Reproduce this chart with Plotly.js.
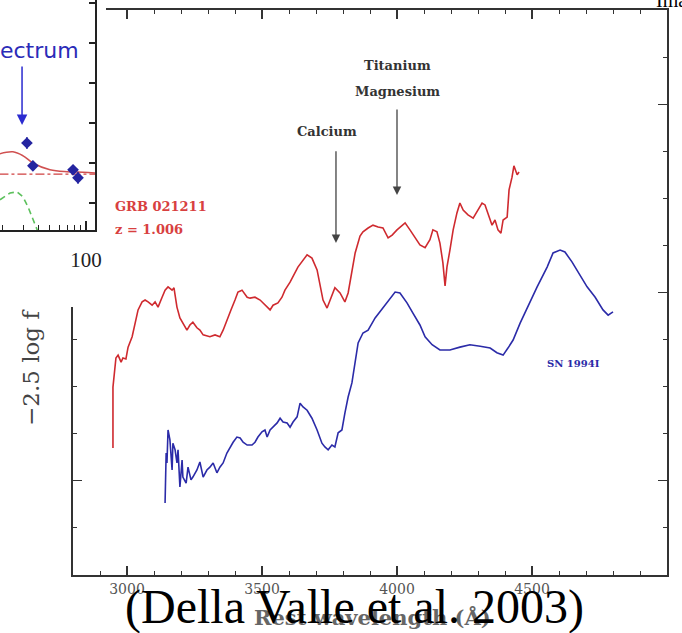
<!DOCTYPE html>
<html>
<head>
<meta charset="utf-8">
<script src="https://cdn.plot.ly/plotly-3.0.1.min.js"></script>
<style>
  html, body { margin: 0; padding: 0; background: #fff; }
  #chart { width: 682px; height: 633px; }
</style>
</head>
<body>
<div id="chart"></div>
<script>
// GRB 021211 afterglow spectrum, rest frame (z = 1.006), -2.5 log f in arbitrary units
const grbWave = [2948,2948,2959,2967,2978,2985,2996,3004,3019,3030,3041,3056,3067,3078,3093,3104,3115,3130,3141,3152,3167,3174,3185,3196,3207,3222,3233,3244,3259,3270,3282,3296,3307,3326,3344,3356,3370,3385,3400,3411,3426,3433,3445,3456,3474,3493,3504,3519,3530,3541,3559,3574,3585,3604,3622,3633,3667,3685,3704,3715,3726,3741,3752,3770,3789,3807,3819,3833,3845,3863,3874,3893,3911,3930,3948,3967,3982,4000,4019,4030,4048,4067,4085,4104,4122,4133,4148,4159,4170,4178,4185,4196,4208,4222,4233,4245,4263,4282,4300,4315,4326,4337,4352,4363,4374,4385,4393,4408,4415,4426,4433,4445,4452];
const grbMag = [2.70,3.99,4.61,4.67,4.52,4.61,4.59,4.84,5.06,5.35,5.63,5.80,5.84,5.80,5.73,5.80,5.69,5.90,6.05,6.12,6.05,6.10,5.69,5.46,5.35,5.20,5.31,5.37,5.25,5.20,5.10,5.08,5.06,5.10,5.06,5.20,5.42,5.63,5.84,6.01,6.05,5.99,5.90,5.88,5.90,5.84,5.78,5.69,5.63,5.73,5.78,5.90,6.05,6.22,6.41,6.54,6.80,6.73,6.48,6.12,5.84,5.67,5.84,6.10,5.99,5.80,5.99,6.41,6.84,7.20,7.29,7.37,7.43,7.39,7.37,7.16,7.22,7.33,7.43,7.48,7.33,7.16,7.01,6.95,7.12,7.33,7.29,7.05,6.63,6.14,6.54,6.90,7.33,7.69,7.90,7.75,7.65,7.58,7.75,7.90,7.86,7.69,7.43,7.54,7.33,7.26,7.54,7.60,8.18,8.45,8.69,8.50,8.56];

// SN 1994I comparison spectrum
const snWave = [3141,3145,3148,3152,3159,3167,3170,3178,3185,3189,3196,3204,3207,3219,3226,3237,3244,3259,3270,3282,3296,3307,3319,3333,3344,3356,3370,3382,3393,3407,3419,3430,3445,3463,3474,3485,3500,3511,3519,3530,3541,3556,3567,3578,3593,3604,3615,3630,3641,3652,3667,3685,3704,3722,3733,3745,3759,3770,3782,3796,3807,3819,3833,3845,3856,3874,3893,3919,3937,3963,3993,4011,4037,4059,4085,4104,4130,4159,4196,4233,4270,4308,4345,4370,4393,4411,4430,4456,4482,4519,4556,4578,4604,4622,4648,4678,4704,4734,4763,4782,4800];
const snMag = [1.53,2.59,2.38,3.08,2.87,2.23,2.80,2.66,2.38,2.66,1.87,2.44,2.08,1.95,2.29,2.02,2.08,2.23,2.40,2.08,2.23,2.29,2.38,2.17,2.29,2.38,2.59,2.72,2.82,2.93,2.91,2.82,2.76,2.76,2.82,2.93,3.04,3.08,2.93,3.08,3.14,3.23,3.33,3.25,3.23,3.14,3.25,3.36,3.65,3.57,3.50,3.33,3.08,2.80,2.72,2.66,2.76,2.72,3.02,3.08,3.44,3.78,4.08,4.50,4.93,5.14,5.20,5.46,5.59,5.80,6.01,5.99,5.78,5.56,5.31,5.06,4.89,4.78,4.78,4.84,4.89,4.86,4.82,4.72,4.67,4.82,4.99,5.35,5.67,6.12,6.54,6.84,6.90,6.86,6.65,6.37,6.12,5.90,5.63,5.52,5.59];

// Light-curve inset: photometry, total model, host level, supernova component
const lcTime = [32.2, 36.1, 78.0, 85.8];
const lcMag = [1.50, 0.93, 0.83, 0.63];
const lcErrMag = [0.15, 0.10, 0.10, 0.15];
const lcErrTime = [0, 3, 0, 0];
const modelTime = [19, 24.6, 29.9, 36.1, 50.1, 69.5, 94.4, 119];
const modelMag = [1.23, 1.28, 1.18, 1.00, 0.83, 0.78, 0.77, 0.75];
const hostTime = [19, 119];
const hostMag = [0.72, 0.72];
const snCompTime = [19.2, 23.3, 26.6, 29.9, 32.9, 36.1, 39.1, 41.4];
const snCompMag = [0.08, 0.25, 0.28, 0.15, -0.10, -0.43, -0.68, -0.85];

// Feature marks and labels
const lineNames = ['Titanium', 'Magnesium', 'Calcium'];
const tiMgWave = 4000;
const caWave = 3774;

const W = 682, H = 633;
const fx = p => p / W;
const fy = p => 1 - p / H;
const frame = '#333';
const serif = 'DejaVu Serif';

const traces = [
  { x: grbWave, y: grbMag, xaxis: 'x', yaxis: 'y', mode: 'lines',
    line: { color: '#cf2a2f', width: 1.6 }, hoverinfo: 'skip' },
  { x: snWave, y: snMag, xaxis: 'x', yaxis: 'y', mode: 'lines',
    line: { color: '#2b2ba8', width: 1.6 }, hoverinfo: 'skip' },
  // empty panel that masks the frame corner behind the inset
  { x: [], y: [], xaxis: 'x2', yaxis: 'y2', mode: 'lines', hoverinfo: 'skip' },
  // inset
  { x: snCompTime, y: snCompMag, xaxis: 'x3', yaxis: 'y3', mode: 'lines',
    line: { color: '#5cc05c', width: 1.6, dash: '6px,4px' } },
  { x: hostTime, y: hostMag, xaxis: 'x3', yaxis: 'y3', mode: 'lines',
    line: { color: '#d04040', width: 1.3, dash: 'dashdot' } },
  { x: modelTime, y: modelMag, xaxis: 'x3', yaxis: 'y3', mode: 'lines', line: { shape: 'spline',
    color: '#d05050', width: 1.5 } },
  { x: lcTime, y: lcMag, xaxis: 'x3', yaxis: 'y3', mode: 'markers',
    marker: { symbol: 'diamond', size: 9, color: '#2424a0' },
    error_y: { type: 'data', array: lcErrMag, color: '#2424a0', thickness: 1.3, width: 0 },
    error_x: { type: 'data', array: lcErrTime, color: '#2424a0', thickness: 1.3, width: 0 } }
];

const noAxis = { showline: false, showgrid: false, zeroline: false, ticks: '', showticklabels: false, range: [0, 1] };

const layout = {
  width: W, height: H,
  margin: { l: 0, r: 0, t: 0, b: 0 },
  paper_bgcolor: '#fff', plot_bgcolor: '#fff',
  showlegend: false,
  xaxis: {
    domain: [fx(73), fx(667)], anchor: 'y', range: [2800, 5000],
    tickmode: 'linear', tick0: 3000, dtick: 500,
    ticks: 'inside', ticklen: 9, tickwidth: 1.2, tickcolor: frame,
    minor: { tickmode: 'linear', tick0: 3000, dtick: 100, ticks: 'inside', ticklen: 4, tickwidth: 1, tickcolor: frame },
    showline: true, linecolor: frame, linewidth: 2, mirror: 'ticks',
    showgrid: false, zeroline: false,
    tickfont: { family: serif, size: 14, color: '#555' }
  },
  yaxis: {
    domain: [fy(575), fy(10)], anchor: 'x', range: [0, 12],
    tickmode: 'linear', tick0: 2, dtick: 4,
    ticks: 'inside', ticklen: 9, tickwidth: 1.2, tickcolor: frame,
    minor: { tickmode: 'linear', tick0: 0, dtick: 1, ticks: 'inside', ticklen: 4, tickwidth: 1, tickcolor: frame },
    showline: true, linecolor: frame, linewidth: 2, mirror: 'ticks',
    showgrid: false, zeroline: false, showticklabels: false
  },
  // blank panel behind the inset
  xaxis2: Object.assign({ domain: [0, fx(106)], anchor: 'y2' }, noAxis),
  yaxis2: Object.assign({ domain: [fy(307), 1], anchor: 'x2' }, noAxis),
  // light-curve inset
  xaxis3: {
    domain: [0, fx(95)], anchor: 'y3', type: 'log',
    range: [Math.log10(19.2), Math.log10(118.9)],
    tickmode: 'array', tickvals: [100], ticktext: ['100'],
    ticks: 'inside', ticklen: 9, tickwidth: 1.3, tickcolor: '#222',
    minor: { tickmode: 'array', tickvals: [20, 30, 40, 50, 60, 70, 80, 90], ticks: 'inside', ticklen: 5, tickwidth: 1, tickcolor: '#222' },
    showline: true, linecolor: '#222', linewidth: 2, mirror: false,
    showgrid: false, zeroline: false, ticklabelstandoff: 10,
    tickfont: { family: 'Liberation Serif', size: 21, color: '#222' }
  },
  yaxis3: {
    domain: [fy(230), 1], anchor: 'x3', side: 'right', range: [-0.675, 5.075],
    tickmode: 'linear', tick0: 0, dtick: 1,
    ticks: 'inside', ticklen: 6, tickwidth: 1.2, tickcolor: '#222',
    showline: true, linecolor: '#222', linewidth: 2,
    showgrid: false, zeroline: false, showticklabels: false
  },
  annotations: [
    { xref: 'x', yref: 'y', x: tiMgWave, y: 10.83, text: lineNames[0], showarrow: false,
      font: { family: serif, size: 13, color: '#333', weight: 'bold' } },
    { xref: 'x', yref: 'y', x: tiMgWave, y: 10.26, text: lineNames[1], showarrow: false,
      font: { family: serif, size: 13, color: '#333', weight: 'bold' } },
    { xref: 'x', yref: 'y', x: tiMgWave, y: 8.07, axref: 'x', ayref: 'y', ax: tiMgWave, ay: 9.92,
      text: '', showarrow: true, arrowhead: 2, arrowsize: 1.3, arrowwidth: 1.3, arrowcolor: '#444' },
    { xref: 'x', yref: 'y', x: 3741, y: 9.41, text: lineNames[2], showarrow: false,
      font: { family: serif, size: 13, color: '#333', weight: 'bold' } },
    { xref: 'x', yref: 'y', x: caWave, y: 7.05, axref: 'x', ayref: 'y', ax: caWave, ay: 9.03,
      text: '', showarrow: true, arrowhead: 2, arrowsize: 1.3, arrowwidth: 1.3, arrowcolor: '#444' },
    { xref: 'x', yref: 'y', x: 2948, y: 7.82, xanchor: 'left', yanchor: 'middle', text: 'GRB 021211', showarrow: false,
      font: { family: serif, size: 13, color: '#d84040', weight: 'bold' } },
    { xref: 'x', yref: 'y', x: 2948, y: 7.33, xanchor: 'left', yanchor: 'middle', text: 'z = 1.006', showarrow: false,
      font: { family: serif, size: 13, color: '#d84040', weight: 'bold' } },
    { xref: 'x', yref: 'y', x: 4548, y: 4.50, xanchor: 'left', yanchor: 'middle', text: 'SN 1994I', showarrow: false,
      font: { family: serif, size: 10, color: '#2b2ba8', weight: 'bold' } },
    { xref: 'paper', yref: 'paper', x: fx(31), y: fy(368), xanchor: 'center', yanchor: 'middle',
      text: '\u22122.5 log f', textangle: -90,
      showarrow: false, font: { family: serif, size: 23, color: '#444' } },
    { xref: 'paper', yref: 'paper', x: fx(372), y: fy(617), xanchor: 'center', yanchor: 'middle',
      text: 'Rest wavelength (\u00c5)',
      showarrow: false, font: { family: serif, size: 21, color: '#666', weight: 'bold' } },
    { xref: 'paper', yref: 'paper', x: fx(354), y: fy(607), xanchor: 'center', yanchor: 'middle',
      text: '(Della Valle et al. 2003)',
      showarrow: false, font: { family: 'Liberation Serif', size: 48, color: '#000' } },
    { xref: 'paper', yref: 'paper', x: fx(654), y: fy(14), xanchor: 'left', yanchor: 'bottom', text: 'Image',
      showarrow: false, font: { family: 'Liberation Serif', size: 20, color: '#000' } },
    { xref: 'paper', yref: 'paper', x: fx(81), y: fy(50), xanchor: 'right', yanchor: 'middle', text: 'Spectrum',
      showarrow: false, font: { family: 'DejaVu Sans', size: 22, color: '#2b2bb8' } },
    { xref: 'x3', yref: 'y3', x: 1.467, y: 1.95, axref: 'x3', ayref: 'y3', ax: 1.467, ay: 3.45,
      text: '', showarrow: true, arrowhead: 2, arrowsize: 1.4, arrowwidth: 1.5, arrowcolor: '#2b2bd0' }
  ]
};

Plotly.newPlot('chart', traces, layout, { staticPlot: true, displayModeBar: false });
</script>
</body>
</html>
